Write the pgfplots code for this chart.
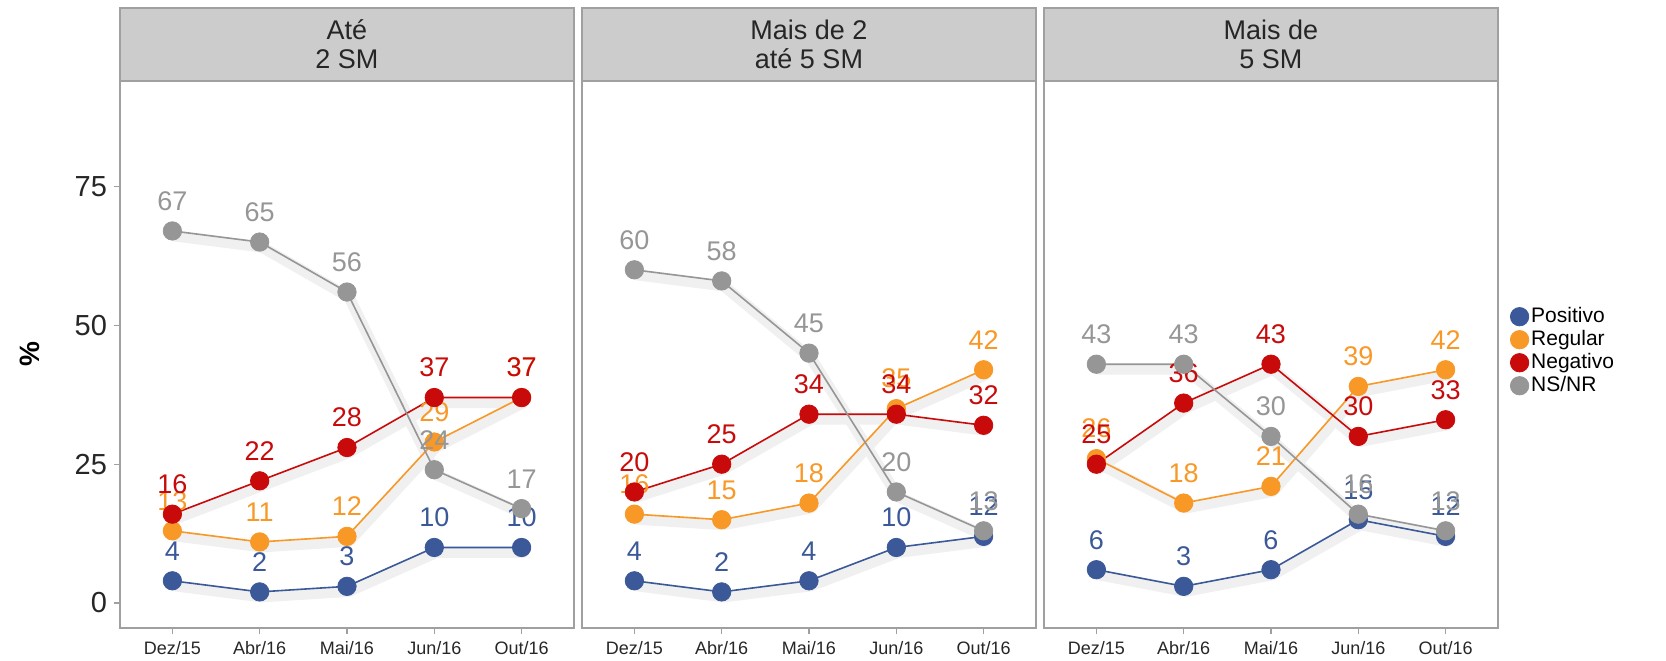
\documentclass[border=0pt]{standalone}
\usepackage{fontspec}
\setmainfont{Liberation Sans}
\usepackage{pgfplots}
\usepackage{pgfplotstable}
\pgfplotsset{compat=1.18}

\definecolor{cpos}{RGB}{59,89,152}
\definecolor{creg}{RGB}{248,152,38}
\definecolor{cneg}{RGB}{200,10,10}
\definecolor{cns}{RGB}{150,150,150}
\definecolor{stripfill}{RGB}{204,204,204}
\definecolor{framegray}{RGB}{160,160,160}

% x: 0=Dez/15 1=Abr/16 2=Mai/16 3=Jun/16 4=Out/16
\pgfplotstableread{
x pos reg neg ns
0 4 13 16 67
1 2 11 22 65
2 3 12 28 56
3 10 29 37 24
4 10 37 37 17
}\tabA
\pgfplotstableread{
x pos reg neg ns
0 4 16 20 60
1 2 15 25 58
2 4 18 34 45
3 10 35 34 20
4 12 42 32 13
}\tabB
\pgfplotstableread{
x pos reg neg ns
0 6 26 25 43
1 3 18 36 43
2 6 21 43 30
3 15 39 30 16
4 12 42 33 13
}\tabC

\pgfplotsset{
  panel/.style={
    anchor=south west,
    width=227pt, height=273.5pt, scale only axis,
    xmin=-0.6, xmax=4.6, ymin=-4.5, ymax=94,
    xtick={0,1,2,3,4},
    xticklabels={Dez/15,Abr/16,Mai/16,Jun/16,Out/16},
    ytick={0,25,50,75},
    xtick pos=bottom, ytick pos=left,
    axis line style={framegray, line width=0.6pt},
    tick align=outside, major tick length=3pt,
    tick style={framegray, line width=0.6pt},
    xticklabel style={font=\fontsize{9}{10}\selectfont, text=black!85},
    yticklabel style={font=\fontsize{14.5}{16}\selectfont, text=black!85},
    /pgf/number format/assume math mode=true,
    clip=false,
  },
  noy/.style={yticklabels={}, ytick style={draw=none}},
  shade/.style={forget plot, no marks, line width=5.5pt, black!6,
    line join=round, line cap=round, yshift=-2.5pt, xshift=1pt},
  ser/.style={color=#1, line width=0.8pt, mark=*, mark size=4.6pt,
    mark options={fill=#1, draw=#1, line width=0.4pt},
    nodes near coords,
    nodes near coords style={font=\fontsize{13.5}{15}\selectfont,
      text=#1, anchor=south, inner sep=0pt, yshift=10pt}},
}

\newcommand{\strip}[1]{%
  \draw[fill=stripfill, draw=framegray, line width=0.6pt]
    (rel axis cs:0,1) rectangle ([yshift=36.5pt]rel axis cs:1,1);
  \node[align=center, font=\fontsize{13.5}{14.5}\selectfont, text=black!85]
    at ([yshift=18.25pt]rel axis cs:0.5,1) {#1};}

\newcommand{\panelplots}[1]{%
  \addplot[shade] table[x=x, y=pos] {#1};
  \addplot[shade] table[x=x, y=reg] {#1};
  \addplot[shade] table[x=x, y=neg] {#1};
  \addplot[shade] table[x=x, y=ns] {#1};
  \addplot[ser=cpos] table[x=x, y=pos] {#1};
  \addplot[ser=creg] table[x=x, y=reg] {#1};
  \addplot[ser=cneg] table[x=x, y=neg] {#1};
  \addplot[ser=cns] table[x=x, y=ns] {#1};}

\begin{document}
\begin{tikzpicture}
\path[use as bounding box] (-60pt,-16pt) rectangle (773pt,314pt);

\begin{axis}[panel, at={(0pt,0pt)},
  ylabel={\%},
  ylabel style={at={(axis description cs:-0.198,0.5)}, anchor=center,
    font=\bfseries\fontsize{14}{16}\selectfont, text=black}]
\panelplots{\tabA}
\strip{Até\\2 SM}
\end{axis}

\begin{axis}[panel, noy, at={(231pt,0pt)}]
\panelplots{\tabB}
\strip{Mais de 2\\até 5 SM}
\end{axis}

\begin{axis}[panel, noy, at={(462pt,0pt)},
  legend style={at={(1,0.506)}, anchor=west, xshift=5pt, draw=none,
    fill=none, font=\fontsize{10.5}{12}\selectfont,
    legend cell align=left, inner sep=1pt,
    nodes={inner sep=1.2pt}},
  legend image code/.code={%
    \draw[#1, only marks] plot coordinates {(0.2cm,0cm)};}]
\panelplots{\tabC}
\strip{Mais de\\5 SM}
\legend{Positivo,Regular,Negativo,NS/NR}
\end{axis}
\end{tikzpicture}
\end{document}
